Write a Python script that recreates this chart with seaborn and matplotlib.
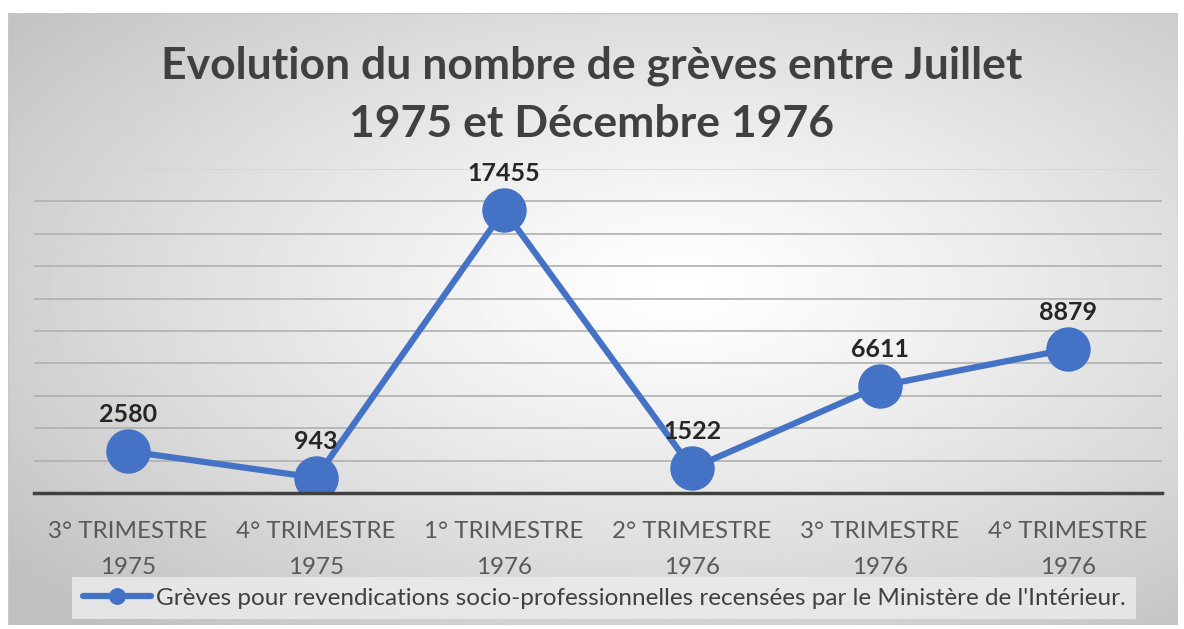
import numpy as np
import pandas as pd
import matplotlib
matplotlib.use("Agg")
import matplotlib.pyplot as plt
import seaborn as sns

# data
periods = ["3° TRIMESTRE\n1975", "4° TRIMESTRE\n1975", "1° TRIMESTRE\n1976",
           "2° TRIMESTRE\n1976", "3° TRIMESTRE\n1976", "4° TRIMESTRE\n1976"]
greves = [2580, 943, 17455, 1522, 6611, 8879]
serie = "Grèves pour revendications socio-professionnelles recensées par le Ministère de l'Intérieur."

df = pd.DataFrame({"periode": periods, "greves": greves, "serie": serie})

sns.set_style("white")
plt.rcParams["font.family"] = ["Lato", "DejaVu Sans"]

blue = "#4472C4"
txt = "#404040"

fig = plt.figure(figsize=(11.84, 6.29), dpi=100)
fig.patch.set_facecolor("white")

# radial gradient background of the chart area
bg = fig.add_axes([8 / 1184, 4 / 629, 1170 / 1184, 612 / 629])
yy, xx = np.mgrid[-1:1:300j, -1:1:600j]
r = np.sqrt((xx - 0.15) ** 2 + (yy + 0.1) ** 2) / 1.5
shade = 1.0 - 0.25 * np.clip(r, 0, 1) ** 1.2
bg.imshow(shade, cmap="gray", vmin=0, vmax=1, aspect="auto", extent=[0, 1, 0, 1])
bg.set_axis_off()
bg.add_patch(plt.Rectangle((0, 0), 1, 1, fill=False, ec="#c8c8c8", lw=1,
                           transform=bg.transAxes))

ax = fig.add_axes([34 / 1184, 136 / 629, 1128 / 1184, 324 / 629])
ax.set_facecolor("none")

sns.lineplot(data=df, x="periode", y="greves", hue="serie", palette=[blue],
             sort=False, marker="o", markersize=32, linewidth=4.5,
             markeredgewidth=0, ax=ax)

ax.set_ylim(0, 20000)
ax.set_xlim(-0.5, len(periods) - 0.5)
ax.set_yticks(np.arange(2000, 20001, 2000))
ax.yaxis.grid(True, color="#b0b0b0", lw=1.2)
ax.get_ygridlines()[-1].set_color("#d4d4d4")
ax.set_axisbelow(True)
ax.tick_params(axis="y", left=False, labelleft=False)
ax.tick_params(axis="x", bottom=False, labelsize=17.4, labelcolor="#595959", pad=17)
for lab in ax.get_xticklabels():
    lab.set_linespacing(1.85)
ax.set_xlabel("")
ax.set_ylabel("")
for side in ["left", "right", "top"]:
    ax.spines[side].set_visible(False)
ax.spines["bottom"].set_color("#404040")
ax.spines["bottom"].set_linewidth(2.5)

for i, v in enumerate(greves):
    ax.annotate(str(v), (i, v), xytext=(0, 18), textcoords="offset points",
                ha="center", va="bottom", fontsize=18, fontweight="bold", color="#262626")

fig.text(0.5, 1 - 95 / 629, "Evolution du nombre de grèves entre Juillet\n1975 et Décembre 1976",
         ha="center", va="center", fontsize=32, fontweight="bold", color=txt,
         linespacing=1.55)

handles, labels = ax.get_legend_handles_labels()
ax.legend(handles, labels, loc="center", bbox_to_anchor=(604 / 1184, 31 / 629),
          bbox_transform=fig.transFigure, frameon=True, facecolor="#ebebeb",
          edgecolor="none", framealpha=0.85, fancybox=False, fontsize=17.5,
          labelcolor=txt, handlelength=2.8, handletextpad=0.2, markerscale=0.38,
          borderpad=0.45)

fig.savefig("out.png", dpi=100)
